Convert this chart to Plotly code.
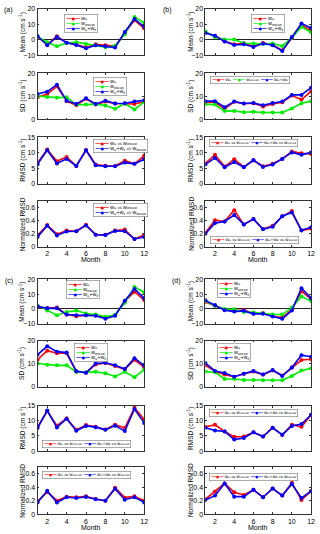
import plotly.graph_objects as go

months = list(range(1, 13))
series_names = ["W<sub>G</sub>", "W<sub>OSCAR</sub>", "W<sub>G</sub>+W<sub>E</sub>"]
rmsd_names = ["W<sub>G</sub> vs W<sub>OSCAR</sub>", "W<sub>G</sub>+W<sub>E</sub> vs W<sub>OSCAR</sub>"]
x_ticks = [2, 4, 6, 8, 10, 12]

# ---------------- panel (a) ----------------
a_mean_g = [1.9, -3.0, 2.3, -1.8, -3.0, -4.8, -2.9, -3.5, -4.0, 4.5, 12.7, 7.5]
a_mean_o = [2.0, -1.5, -4.2, -2.0, -1.5, -2.7, -3.5, -4.8, -3.8, 3.6, 14.8, 11.0]
a_mean_ge = [2.5, -3.5, 1.9, -1.8, -3.3, -5.5, -3.5, -4.2, -5.0, 5.1, 13.5, 8.4]
a_sd_g = [9.6, 11.0, 14.3, 7.9, 6.1, 8.9, 6.4, 7.7, 6.9, 6.9, 6.7, 7.7]
a_sd_o = [10.1, 9.7, 9.4, 9.6, 6.4, 6.4, 6.6, 6.0, 4.6, 6.9, 4.3, 7.6]
a_sd_ge = [11.0, 12.0, 15.0, 8.1, 6.7, 9.1, 6.7, 8.1, 6.9, 7.0, 7.7, 8.3]
a_rmsd_g = [6.7, 11.0, 7.2, 8.6, 5.7, 10.9, 6.2, 5.8, 5.7, 7.4, 6.4, 9.0]
a_rmsd_ge = [6.3, 10.8, 6.5, 8.0, 5.7, 10.8, 5.9, 5.6, 5.6, 6.8, 6.4, 7.9]
a_nrmsd_g = [0.175, 0.335, 0.195, 0.25, 0.24, 0.34, 0.185, 0.185, 0.25, 0.265, 0.12, 0.18]
a_nrmsd_ge = [0.15, 0.325, 0.175, 0.235, 0.24, 0.33, 0.185, 0.18, 0.245, 0.24, 0.12, 0.15]

# ---------------- panel (b) ----------------
b_mean_g = [4.7, 2.5, -0.9, -2.9, -2.2, -4.2, -2.0, -3.1, -6.8, 1.0, 9.4, 6.2]
b_mean_o = [5.5, 1.7, 0.2, 0.2, -2.2, -2.4, -2.7, -2.4, -4.0, 1.4, 8.4, 4.9]
b_mean_ge = [4.5, 2.7, -1.1, -3.3, -2.9, -4.6, -2.4, -3.5, -7.2, 1.9, 10.5, 7.7]
b_sd_g = [7.4, 7.4, 4.6, 7.6, 6.9, 7.0, 5.6, 6.7, 7.4, 10.3, 8.6, 12.1]
b_sd_o = [6.6, 6.4, 3.6, 3.7, 3.1, 3.3, 3.0, 3.0, 3.0, 4.7, 7.0, 7.9]
b_sd_ge = [7.9, 7.9, 5.3, 7.7, 6.9, 7.1, 6.1, 7.1, 7.7, 10.6, 10.6, 13.7]
b_rmsd_g = [6.6, 9.3, 5.5, 7.9, 5.4, 7.5, 5.6, 6.4, 8.0, 10.4, 9.8, 9.6]
b_rmsd_ge = [6.2, 8.3, 5.3, 7.0, 5.3, 7.6, 5.4, 6.2, 8.0, 10.1, 9.3, 10.1]
b_nrmsd_g = [0.215, 0.41, 0.39, 0.565, 0.345, 0.425, 0.275, 0.325, 0.47, 0.55, 0.25, 0.28]
b_nrmsd_ge = [0.2, 0.365, 0.39, 0.49, 0.345, 0.43, 0.27, 0.31, 0.47, 0.53, 0.255, 0.3]

# ---------------- panel (c) ----------------
c_mean_g = [1.1, 0.6, 0.9, -3.8, -4.9, -4.2, -4.2, -6.0, -4.2, 5.1, 11.7, 6.0]
c_mean_o = [2.4, -1.1, -4.2, -2.0, -1.1, -3.1, -3.8, -5.3, -4.0, 4.2, 14.8, 11.3]
c_mean_ge = [1.8, 0.4, 0.4, -3.8, -4.2, -4.2, -4.6, -6.6, -4.6, 5.5, 13.5, 7.3]
c_sd_g = [11.7, 15.6, 14.5, 14.5, 6.5, 6.1, 9.7, 10.3, 9.0, 7.6, 11.7, 8.5]
c_sd_o = [10.1, 9.6, 9.3, 9.3, 6.5, 6.3, 6.5, 5.9, 4.5, 6.5, 4.2, 7.5]
c_sd_ge = [13.9, 17.5, 15.2, 14.8, 6.8, 6.1, 10.1, 10.4, 9.3, 7.7, 12.4, 9.2]
c_rmsd_g = [7.9, 13.2, 8.4, 10.8, 7.0, 8.6, 8.0, 7.1, 8.7, 7.6, 14.3, 10.4]
c_rmsd_ge = [7.6, 13.4, 7.8, 10.7, 6.7, 8.3, 7.9, 7.0, 8.4, 6.6, 13.9, 9.3]
c_nrmsd_g = [0.19, 0.33, 0.2, 0.26, 0.25, 0.265, 0.225, 0.2, 0.39, 0.245, 0.265, 0.2]
c_nrmsd_ge = [0.175, 0.345, 0.175, 0.25, 0.24, 0.255, 0.22, 0.2, 0.375, 0.215, 0.25, 0.175]

# ---------------- panel (d) ----------------
d_mean_g = [4.7, 2.2, -0.4, -1.3, -0.7, -3.1, -2.7, -4.9, -5.8, -0.4, 12.0, 6.7]
d_mean_o = [5.3, 2.2, 0.0, -0.2, -2.0, -2.4, -2.9, -3.8, -3.8, 0.9, 8.4, 5.3]
d_mean_ge = [5.8, 2.7, -0.9, -1.8, -1.3, -3.3, -3.3, -5.1, -6.7, -1.1, 14.0, 7.3]
d_sd_g = [9.3, 6.7, 5.3, 4.4, 5.7, 6.6, 5.3, 7.1, 4.9, 8.4, 11.6, 11.9]
d_sd_o = [6.6, 6.3, 3.4, 3.4, 3.0, 3.0, 2.9, 2.9, 2.9, 4.7, 7.1, 8.0]
d_sd_ge = [10.3, 6.9, 6.0, 4.4, 5.7, 6.9, 5.4, 7.3, 4.7, 8.4, 13.7, 13.0]
d_rmsd_g = [8.0, 8.7, 6.5, 4.7, 4.8, 6.2, 4.8, 7.7, 5.3, 8.7, 8.0, 11.9]
d_rmsd_ge = [7.7, 6.8, 6.5, 3.8, 4.3, 6.2, 4.8, 7.7, 5.4, 8.3, 8.9, 12.0]
d_nrmsd_g = [0.22, 0.335, 0.455, 0.325, 0.285, 0.36, 0.25, 0.38, 0.275, 0.465, 0.21, 0.34]
d_nrmsd_ge = [0.21, 0.275, 0.455, 0.26, 0.26, 0.36, 0.25, 0.38, 0.275, 0.445, 0.24, 0.34]

colors = ["#FF0000", "#00EE00", "#0000FF"]
rmsd_colors = ["#FF0000", "#0000FF"]

W, H = 320, 534
FONT = "Arial, Liberation Sans, sans-serif"

panels = {
    "a": dict(mean=[a_mean_g, a_mean_o, a_mean_ge], sd=[a_sd_g, a_sd_o, a_sd_ge],
              rmsd=[a_rmsd_g, a_rmsd_ge], nrmsd=[a_nrmsd_g, a_nrmsd_ge]),
    "b": dict(mean=[b_mean_g, b_mean_o, b_mean_ge], sd=[b_sd_g, b_sd_o, b_sd_ge],
              rmsd=[b_rmsd_g, b_rmsd_ge], nrmsd=[b_nrmsd_g, b_nrmsd_ge]),
    "c": dict(mean=[c_mean_g, c_mean_o, c_mean_ge], sd=[c_sd_g, c_sd_o, c_sd_ge],
              rmsd=[c_rmsd_g, c_rmsd_ge], nrmsd=[c_nrmsd_g, c_nrmsd_ge]),
    "d": dict(mean=[d_mean_g, d_mean_o, d_mean_ge], sd=[d_sd_g, d_sd_o, d_sd_ge],
              rmsd=[d_rmsd_g, d_rmsd_ge], nrmsd=[d_nrmsd_g, d_nrmsd_ge]),
}

col_x = {"a": (38, 146), "c": (38, 146), "b": (208, 315), "d": (208, 315)}
title_x = {"a": 22.5, "c": 22.5, "b": 193, "d": 193}
month_y = {"a": 259, "b": 259, "c": 530, "d": 530}
rows_top = [(5, 52), (70, 117), (135, 182), (200, 246)]
rows_bot = [(279, 324), (341, 388), (407, 453), (469, 517)]
row_px = {"a": rows_top, "b": rows_top, "c": rows_bot, "d": rows_bot}

kinds = ["mean", "sd", "rmsd", "nrmsd"]
yranges = {"mean": [-10, 20], "sd": [0, 20], "rmsd": [0, 15], "nrmsd": [0, 0.7]}
yticks = {"mean": [-10, 0, 10, 20], "sd": [0, 10, 20], "rmsd": [0, 5, 10, 15],
          "nrmsd": [0, 0.2, 0.4, 0.6]}
ytitles = {"mean": "Mean (cm s<sup>-1</sup>)", "sd": "SD (cm s<sup>-1</sup>)",
           "rmsd": "RMSD (cm s<sup>-1</sup>)", "nrmsd": "Normalized RMSD"}

# legend boxes: (left px, top px, horizontal?)
legend_pos = {
    ("a", "mean"): (65, 10, False), ("a", "sd"): (94, 74, False),
    ("a", "rmsd"): (94, 137, False), ("a", "nrmsd"): (94, 202, False),
    ("b", "mean"): (254, 10, False), ("b", "sd"): (213, 73, True),
    ("b", "rmsd"): (212, 137, True), ("b", "nrmsd"): (213, 235, True),
    ("c", "mean"): (67, 280, False), ("c", "sd"): (75, 343, False),
    ("c", "rmsd"): (43, 442, True), ("c", "nrmsd"): (43, 473, True),
    ("d", "mean"): (220, 279, False), ("d", "sd"): (220, 344, False),
    ("d", "rmsd"): (212, 410, True), ("d", "nrmsd"): (212, 475, True),
}

fig = go.Figure()
layout = dict(width=W, height=H, margin=dict(l=0, r=0, t=0, b=0),
              paper_bgcolor="white", plot_bgcolor="white", showlegend=False,
              font=dict(family=FONT, size=7, color="black"))
annotations = []

idx = 0
for p in ["a", "b", "c", "d"]:
    x0, x1 = col_x[p]
    for r, kind in enumerate(kinds):
        idx += 1
        sfx = "" if idx == 1 else str(idx)
        ytop, ybot = row_px[p][r]
        vals = panels[p][kind]
        cols = colors if len(vals) == 3 else rmsd_colors
        for v, c in zip(vals, cols):
            fig.add_trace(go.Scatter(
                x=months, y=v, mode="lines+markers", xaxis="x" + sfx, yaxis="y" + sfx,
                line=dict(color=c, width=1.6), marker=dict(color=c, size=4),
                hoverinfo="skip"))
        bottom = kind == "nrmsd"
        layout["xaxis" + sfx] = dict(
            domain=[x0 / W, x1 / W], anchor="y" + sfx, range=[1, 12],
            tickvals=x_ticks, showticklabels=bottom, ticks="inside", ticklen=2,
            tickcolor="#333", showline=True, linecolor="#333", linewidth=0.8,
            mirror="ticks", showgrid=False, zeroline=False,
            tickfont=dict(size=7))
        layout["yaxis" + sfx] = dict(
            domain=[1 - ybot / H, 1 - ytop / H], anchor="x" + sfx,
            range=yranges[kind], tickvals=yticks[kind], ticks="inside", ticklen=2,
            tickcolor="#333", showline=True, linecolor="#333", linewidth=0.8,
            mirror="ticks", showgrid=False,
            zeroline=(kind == "mean"), zerolinecolor="#222", zerolinewidth=1,
            tickfont=dict(size=7))
        # y axis title
        annotations.append(dict(
            x=title_x[p] / W, y=1 - (ytop + ybot) / 2 / H, xref="paper", yref="paper",
            xanchor="center", yanchor="middle", textangle=-90, showarrow=False,
            text=ytitles[kind], font=dict(size=6.5)))
        if bottom:
            annotations.append(dict(
                x=(x0 + x1) / 2 / W, y=1 - month_y[p] / H, xref="paper", yref="paper",
                xanchor="center", yanchor="middle", showarrow=False,
                text="Month", font=dict(size=7)))
        # legend box as text annotation
        lx, ly, horiz = legend_pos[(p, kind)]
        names = series_names if len(vals) == 3 else rmsd_names
        items = ["<span style='color:%s'>━━●━━</span> %s" % (c, n)
                 for c, n in zip(cols, names)]
        text = "  ".join(items) if horiz else "<br>".join(items)
        annotations.append(dict(
            x=lx / W, y=1 - ly / H, xref="paper", yref="paper",
            xanchor="left", yanchor="top", showarrow=False, align="left",
            text=text, font=dict(size=3.6 if horiz else 4, family="DejaVu Sans"),
            bgcolor="white", bordercolor="#777", borderwidth=0.6, borderpad=1))

for lab, px, py in [("(a)", 2, 6), ("(b)", 163, 6), ("(c)", 3, 281), ("(d)", 172, 281)]:
    annotations.append(dict(x=px / W, y=1 - py / H, xref="paper", yref="paper",
                            xanchor="left", yanchor="middle", showarrow=False,
                            text=lab, font=dict(size=7)))

layout["annotations"] = annotations
fig.update_layout(**layout)
fig.write_html("out.html", config={"displayModeBar": False},
               post_script="document.body.style.margin='0';"
                           "document.body.style.overflow='hidden';")
